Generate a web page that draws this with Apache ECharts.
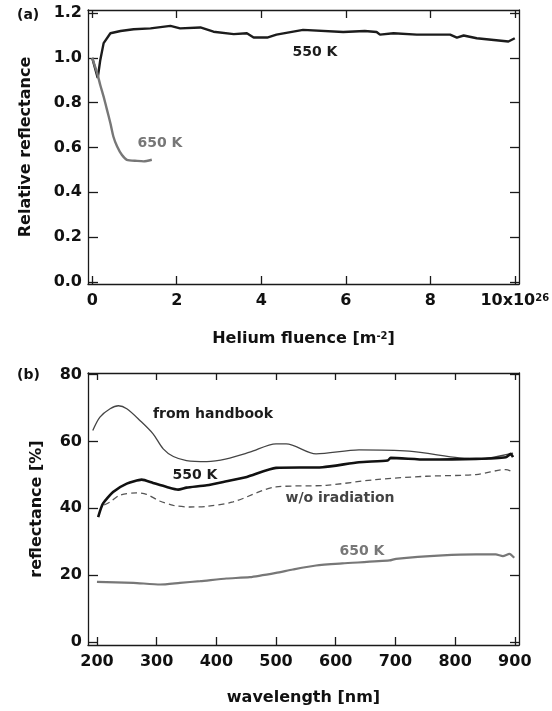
<!DOCTYPE html>
<html>
<head>
<meta charset="utf-8">
<script src="https://cdn.jsdelivr.net/npm/echarts@6/dist/echarts.min.js"></script>
<style>
  html, body { margin: 0; padding: 0; background: #fff; }
  #chart { width: 552px; height: 711px; }
</style>
</head>
<body>
<div id="chart"></div>
<script>
// (a) relative reflectance vs helium fluence (x in 1e26 m^-2)
var fluence550 = [0, 0.13, 0.19, 0.27, 0.43, 0.67, 0.98, 1.38, 1.85, 2.08, 2.56, 2.87, 3.35, 3.66, 3.82, 4.14, 4.36, 4.99, 5.94, 6.45, 6.73, 6.81, 7.13, 7.68, 8.47, 8.63, 8.79, 9.1, 9.85, 10.0];
var relRefl550 = [1.0, 0.91, 0.99, 1.066, 1.11, 1.12, 1.128, 1.132, 1.143, 1.132, 1.136, 1.117, 1.106, 1.11, 1.091, 1.091, 1.104, 1.125, 1.116, 1.12, 1.116, 1.104, 1.11, 1.104, 1.104, 1.091, 1.1, 1.088, 1.073, 1.088];
var fluence650 = [0, 0.12, 0.19, 0.27, 0.35, 0.43, 0.5, 0.59, 0.7, 0.82, 1.06, 1.22, 1.41];
var relRefl650 = [1.0, 0.93, 0.879, 0.827, 0.768, 0.708, 0.649, 0.604, 0.567, 0.545, 0.54, 0.538, 0.545];

// (b) reflectance spectra
var wlHandbook = [193, 205, 222, 236, 250, 272, 294, 311, 328, 350, 384, 417, 456, 500, 517, 567, 639, 723, 807, 846, 891, 897];
var reflHandbook = [63.3, 67.3, 69.8, 70.7, 69.8, 66.3, 62.3, 57.8, 55.5, 54.3, 54.0, 54.8, 56.8, 59.3, 59.3, 56.3, 57.5, 57.1, 55.1, 54.8, 56.3, 56.5];
var wl550 = [202, 210, 227, 250, 275, 294, 317, 336, 350, 384, 417, 451, 500, 578, 639, 687, 692, 751, 835, 885, 893, 897];
var refl550 = [37.4, 41.4, 44.9, 47.4, 48.6, 47.6, 46.4, 45.6, 46.2, 46.9, 48.1, 49.4, 52.1, 52.3, 53.8, 54.3, 55.1, 54.6, 54.8, 55.3, 56.3, 55.3];
var wlNoIrr = [212, 222, 238, 266, 283, 305, 328, 356, 384, 428, 500, 584, 667, 751, 835, 885, 897];
var reflNoIrr = [41.0, 41.9, 43.9, 44.6, 44.2, 42.2, 40.9, 40.4, 40.6, 41.9, 46.4, 46.9, 48.6, 49.6, 50.1, 51.6, 50.8];
var wl650 = [200, 261, 306, 339, 373, 417, 456, 500, 528, 567, 611, 690, 701, 779, 835, 868, 880, 891, 899];
var refl650 = [18.0, 17.7, 17.2, 17.7, 18.2, 19.0, 19.4, 20.7, 21.7, 22.9, 23.5, 24.4, 24.9, 25.9, 26.2, 26.2, 25.7, 26.4, 25.2];

// tick labels
var ticksFluence = [0, 2, 4, 6, 8, 10];
var ticksRelRefl = [0, 0.2, 0.4, 0.6, 0.8, 1.0, 1.2];
var ticksWl = [200, 300, 400, 500, 600, 700, 800, 900];
var ticksRefl = [0, 20, 40, 60, 80];

function zip(xs, ys) {
    return xs.map(function(x, i) { return [x, ys[i]]; });
}

var FONT = 'DejaVu Sans';
var INK = '#1a1a1a';

// one axis of the box frame, ticks pointing inward
function frameAxis(opt) {
    var a = {
        type: 'value',
        gridIndex: opt.grid,
        position: opt.position,
        min: opt.min,
        max: opt.max,
        splitLine: { show: false },
        axisLine: { show: true, onZero: false, lineStyle: { color: INK, width: 1.3 } },
        axisTick: { show: true, inside: true, length: opt.tickLen || 8, customValues: opt.ticks, lineStyle: { color: INK, width: 1.3 } },
        axisLabel: { show: false }
    };
    if (opt.labels) {
        a.axisLabel = {
            show: true,
            customValues: opt.ticks,
            margin: opt.margin,
            color: '#111',
            fontFamily: FONT,
            fontWeight: 'bold',
            fontSize: 16,
            formatter: opt.formatter,
            rich: opt.rich
        };
    }
    if (opt.name) {
        a.name = opt.name;
        a.nameLocation = 'middle';
        a.nameGap = opt.nameGap;
        a.nameRotate = opt.nameRotate;
        a.nameTextStyle = { color: '#111', fontFamily: FONT, fontWeight: 'bold', fontSize: 16, rich: opt.nameRich };
    }
    return a;
}

var sup = { fontFamily: FONT, fontWeight: 'bold', fontSize: 10, verticalAlign: 'top', color: '#111', lineHeight: 10 };

var chart = echarts.init(document.getElementById('chart'));

chart.setOption({
    backgroundColor: '#fff',
    animation: false,
    grid: [
        { left: 88, top: 10, width: 431, height: 274, outerBoundsMode: 'none' },
        { left: 88, top: 373, width: 431, height: 272, outerBoundsMode: 'none' }
    ],
    xAxis: [
        frameAxis({ grid: 0, position: 'bottom', min: -0.1, max: 10.1, ticks: ticksFluence, labels: true, margin: 9,
            formatter: function(v) { return v === 10 ? '10x10{sup|26}' : String(v); },
            rich: { sup: sup },
            name: 'Helium fluence [m{sup|-2}]', nameGap: 47, nameRich: { sup: sup } }),
        frameAxis({ grid: 0, position: 'top', min: -0.1, max: 10.1, ticks: ticksFluence }),
        frameAxis({ grid: 1, position: 'bottom', min: 185, max: 907, ticks: ticksWl, labels: true, margin: 9,
            formatter: function(v) { return String(v); },
            name: 'wavelength [nm]', nameGap: 45 }),
        frameAxis({ grid: 1, position: 'top', min: 185, max: 907, ticks: ticksWl, tickLen: 7 })
    ],
    yAxis: [
        frameAxis({ grid: 0, position: 'left', min: -0.01, max: 1.214, ticks: ticksRelRefl, labels: true, margin: 6, tickLen: 10,
            formatter: function(v) { return v.toFixed(1); },
            name: 'Relative reflectance', nameGap: 54, nameRotate: 90 }),
        frameAxis({ grid: 0, position: 'right', min: -0.01, max: 1.214, ticks: ticksRelRefl, tickLen: 9 }),
        frameAxis({ grid: 1, position: 'left', min: -0.9, max: 80.5, ticks: ticksRefl, labels: true, margin: 6, tickLen: 10,
            formatter: function(v) { return String(v); },
            name: 'reflectance [%]', nameGap: 43, nameRotate: 90 }),
        frameAxis({ grid: 1, position: 'right', min: -0.9, max: 80.5, ticks: ticksRefl, tickLen: 9 })
    ],
    series: [
        { name: '550 K (a)', type: 'line', xAxisIndex: 0, yAxisIndex: 0, data: zip(fluence550, relRefl550),
          showSymbol: false, lineStyle: { color: '#1c1c1c', width: 2.4 } },
        { name: '650 K (a)', type: 'line', xAxisIndex: 0, yAxisIndex: 0, data: zip(fluence650, relRefl650),
          showSymbol: false, smooth: 0.2, lineStyle: { color: '#777', width: 2.4 } },
        { name: 'from handbook', type: 'line', xAxisIndex: 2, yAxisIndex: 2, data: zip(wlHandbook, reflHandbook),
          showSymbol: false, smooth: 0.3, lineStyle: { color: '#444', width: 1.3 } },
        { name: 'w/o iradiation', type: 'line', xAxisIndex: 2, yAxisIndex: 2, data: zip(wlNoIrr, reflNoIrr),
          showSymbol: false, smooth: 0.3, lineStyle: { color: '#555', width: 1.3, type: [6, 4] } },
        { name: '550 K (b)', type: 'line', xAxisIndex: 2, yAxisIndex: 2, data: zip(wl550, refl550),
          showSymbol: false, smooth: 0.2, lineStyle: { color: '#111', width: 2.6 } },
        { name: '650 K (b)', type: 'line', xAxisIndex: 2, yAxisIndex: 2, data: zip(wl650, refl650),
          showSymbol: false, smooth: 0.2, lineStyle: { color: '#777', width: 2.2 } }
    ],
    graphic: [
        { type: 'text', left: 17, top: 8, style: { text: '(a)', fill: '#111', fontFamily: FONT, fontWeight: 'bold', fontSize: 14 } },
        { type: 'text', left: 17, top: 368, style: { text: '(b)', fill: '#111', fontFamily: FONT, fontWeight: 'bold', fontSize: 14 } },
        { type: 'text', x: 315, y: 52, style: { text: '550 K', fill: '#1c1c1c', fontFamily: FONT, fontWeight: 'bold', fontSize: 14, align: 'center', verticalAlign: 'middle' } },
        { type: 'text', x: 160, y: 143, style: { text: '650 K', fill: '#777', fontFamily: FONT, fontWeight: 'bold', fontSize: 14, align: 'center', verticalAlign: 'middle' } },
        { type: 'text', x: 213, y: 414, style: { text: 'from handbook', fill: '#1c1c1c', fontFamily: FONT, fontWeight: 'bold', fontSize: 14, align: 'center', verticalAlign: 'middle' } },
        { type: 'text', x: 195, y: 475, style: { text: '550 K', fill: '#1c1c1c', fontFamily: FONT, fontWeight: 'bold', fontSize: 14, align: 'center', verticalAlign: 'middle' } },
        { type: 'text', x: 340, y: 498, style: { text: 'w/o iradiation', fill: '#444', fontFamily: FONT, fontWeight: 'bold', fontSize: 14, align: 'center', verticalAlign: 'middle' } },
        { type: 'text', x: 362, y: 551, style: { text: '650 K', fill: '#777', fontFamily: FONT, fontWeight: 'bold', fontSize: 14, align: 'center', verticalAlign: 'middle' } }
    ]
});
</script>
</body>
</html>
